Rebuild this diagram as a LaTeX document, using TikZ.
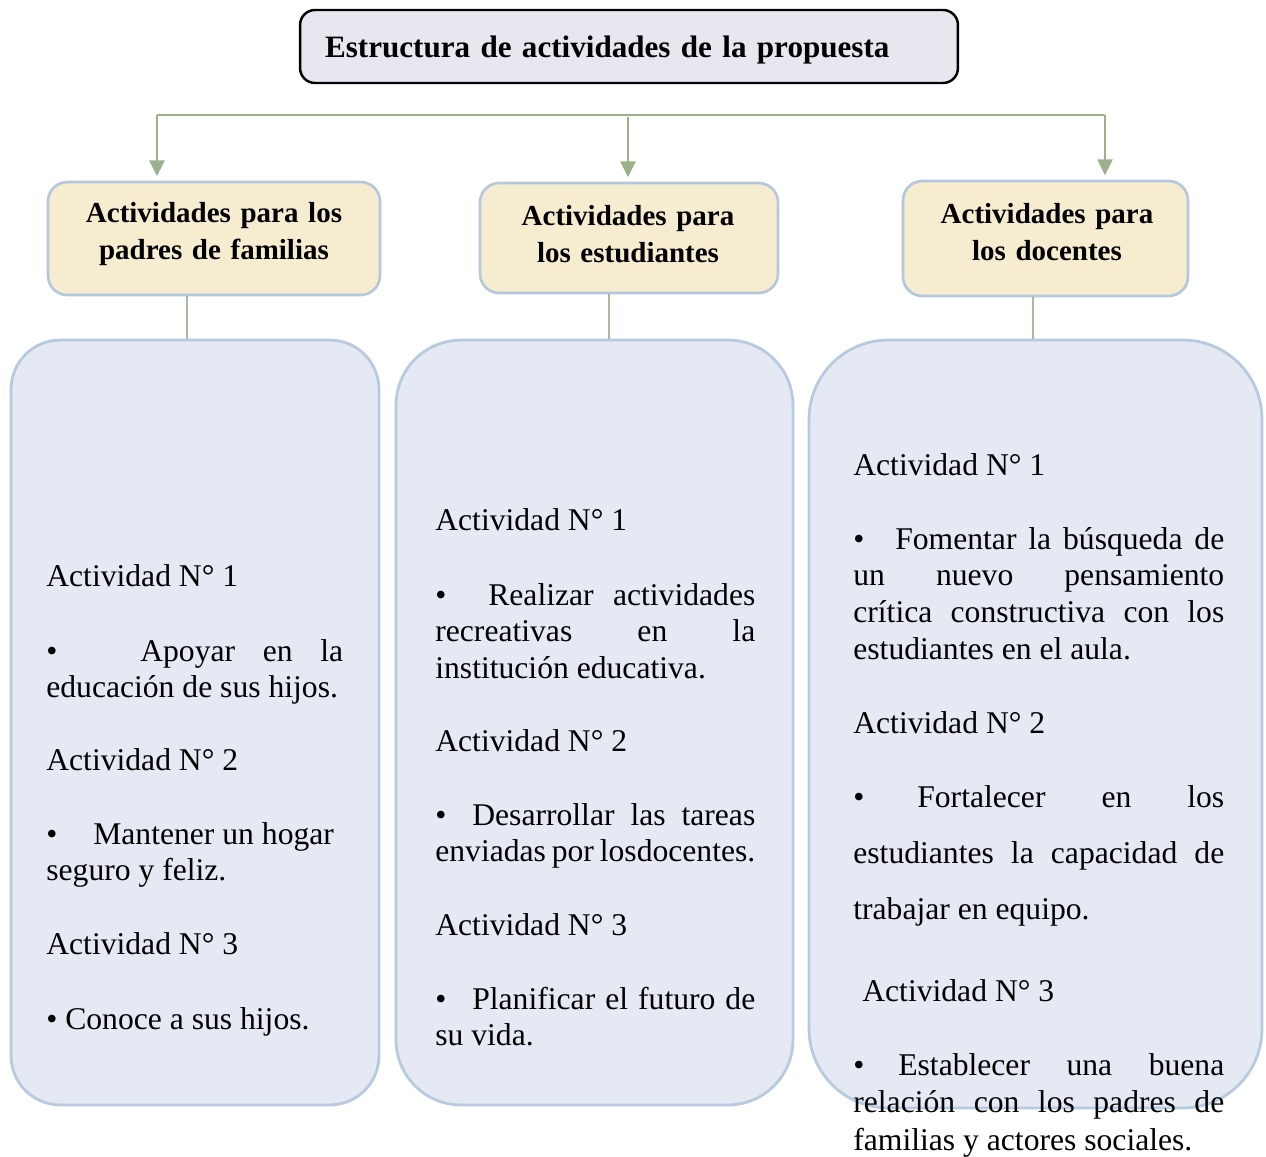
\documentclass[tikz,border=0pt]{standalone}
\usepackage{fontspec}
\setmainfont{Liberation Serif}
\usetikzlibrary{arrows.meta}

\definecolor{titlefill}{HTML}{E8E6EE}
\definecolor{headfill}{HTML}{F6EDD1}
\definecolor{headline}{HTML}{B4C7DD}
\definecolor{bodyfill}{HTML}{E4E9F3}
\definecolor{bodyline}{HTML}{B8CAE0}
\definecolor{busgreen}{HTML}{9BB18B}
\definecolor{linkgreen}{HTML}{ABB99E}

\newcommand{\vineta}[1]{\makebox[#1][l]{\textbullet}}
\newcommand{\titlefont}{\bfseries\fontsize{17.7}{22}\selectfont\spaceskip=0.18em\relax}
\newcommand{\headfont}{\bfseries\fontsize{16.5}{21.6}\selectfont\spaceskip=0.2em\relax}

\begin{document}
\begin{tikzpicture}[x=0.02cm, y=-0.02cm]
		\tikzstyle{Title} = [rectangle, rounded corners=8.5pt, draw=black, line width=1.4pt, fill=titlefill, minimum width=13.16cm, minimum height=1.46cm, inner xsep=0.5cm, text width=12.16cm, text height=17pt, text depth=4pt, align=left, font=\titlefont]
		\tikzstyle{Head} = [rectangle, rounded corners=11pt, draw=headline, line width=1.5pt, fill=headfill]
		\tikzstyle{HeadText} = [anchor=base, inner sep=0, text width=6cm, align=center, font=\headfont]
		\tikzstyle{Body} = [rectangle, draw=bodyline, line width=1.6pt, fill=bodyfill]
		\tikzstyle{Item} = [anchor=base west, inner sep=0, align=justify, font=\fontsize{18}{21}\selectfont]
		\tikzstyle{bus} = [busgreen, line width=0.6pt]
		\tikzstyle{arrow} = [busgreen, line width=1.2pt, -{Triangle[width=8.5pt,length=9pt]}, shorten >=2.5pt]
		\tikzstyle{link} = [linkgreen, line width=0.6pt]
		
		\useasboundingbox (0,0) rectangle (1266,1156);
		
		\node (title) [Title] at (629,46.5) {Estructura de actividades de la propuesta};
		
		\node (h1) [Head, minimum width=6.64cm, minimum height=2.26cm] at (214,238.5) {};
		\node (h2) [Head, minimum width=5.96cm, minimum height=2.2cm] at (629,238) {};
		\node (h3) [Head, minimum width=5.7cm, minimum height=2.3cm] at (1045.5,238.5) {};
		\node (t1) [HeadText] at (214,222) {Actividades para los\\padres de familias};
		\node (t2) [HeadText] at (628,225) {Actividades para\\los estudiantes};
		\node (t3) [HeadText] at (1047,223) {Actividades para\\los docentes};
		
		\coordinate (b1) at (157,115);
		\coordinate (b2) at (628,117);
		\coordinate (b3) at (1105,115);
		\draw [bus] (b1) -- (b3);
		\draw [arrow] (b1) -- (b1 |- h1.north);
		\draw [arrow] (b2) -- (b2 |- h2.north);
		\draw [arrow] (b3) -- (b3 |- h3.north);
		
		\node (p1) [Body, rounded corners=28pt, minimum width=7.36cm, minimum height=15.3cm] at (195,722.5) {};
		\node (p2) [Body, rounded corners=37pt, minimum width=7.94cm, minimum height=15.3cm] at (594.5,722.5) {};
		\node (p3) [Body, rounded corners=45pt, minimum width=9.06cm, minimum height=15.36cm] at (1035.5,724) {};
		
		\coordinate (l1) at (187,0);
		\coordinate (l2) at (609,0);
		\coordinate (l3) at (1033,0);
		\draw [link] (l1 |- h1.south) -- (l1 |- p1.north);
		\draw [link] (l2 |- h2.south) -- (l2 |- p2.north);
		\draw [link] (l3 |- h3.south) -- (l3 |- p3.north);
		
		% padres de familias
		\node (a11) [Item, text width=5.94cm] at (46,586) {Actividad N° 1};
		\node (i11) [Item, text width=5.94cm] at (46,661) {\vineta{1.88cm}Apoyar en la\linebreak educación de sus hijos.};
		\node (a12) [Item, text width=5.94cm] at (46,770) {Actividad N° 2};
		\node (i12) [Item, text width=5.94cm] at (46,844) {\vineta{0.94cm}Mantener un hogar\\seguro y feliz.};
		\node (a13) [Item, text width=5.94cm] at (46,954) {Actividad N° 3};
		\node (i13) [Item, text width=5.94cm] at (46,1029) {\textbullet{} Conoce a sus hijos.};
		
		% estudiantes
		\node (a21) [Item, text width=6.4cm] at (435,530) {Actividad N° 1};
		\node (i21) [Item, text width=6.4cm] at (435,605) {\vineta{1.06cm}Realizar actividades\linebreak recreativas en la\linebreak institución educativa.};
		\node (a22) [Item, text width=6.4cm] at (435,751) {Actividad N° 2};
		\node (i22) [Item, text width=6.4cm] at (435,825) {\vineta{0.74cm}Desarrollar las tareas\linebreak enviadas por losdocentes.};
		\node (a23) [Item, text width=6.4cm] at (435,935) {Actividad N° 3};
		\node (i23) [Item, text width=6.4cm] at (435,1009) {\vineta{0.74cm}Planificar el futuro de\linebreak su vida.};
		
		% docentes
		\node (a31) [Item, text width=7.42cm] at (853,475) {Actividad N° 1};
		\node (i31) [Item, text width=7.42cm] at (853,549) {\vineta{0.84cm}Fomentar la búsqueda de\linebreak un nuevo pensamiento\linebreak crítica constructiva con los\linebreak estudiantes en el aula.};
		\node (a32) [Item, text width=7.42cm] at (853,733) {Actividad N° 2};
		\node (i32) [Item, text width=7.42cm, font=\fontsize{18}{32}\selectfont] at (853,807) {\vineta{1.28cm}Fortalecer en los\linebreak estudiantes la capacidad de\linebreak trabajar en equipo.};
		\node (a33) [Item, text width=7.42cm] at (862,1001) {Actividad N° 3};
		\node (i33) [Item, text width=7.42cm, font=\fontsize{18}{21.5}\selectfont] at (853,1075) {\vineta{0.9cm}Establecer una buena\linebreak relación con los padres de\linebreak familias y actores sociales.};
\end{tikzpicture}
\end{document}
